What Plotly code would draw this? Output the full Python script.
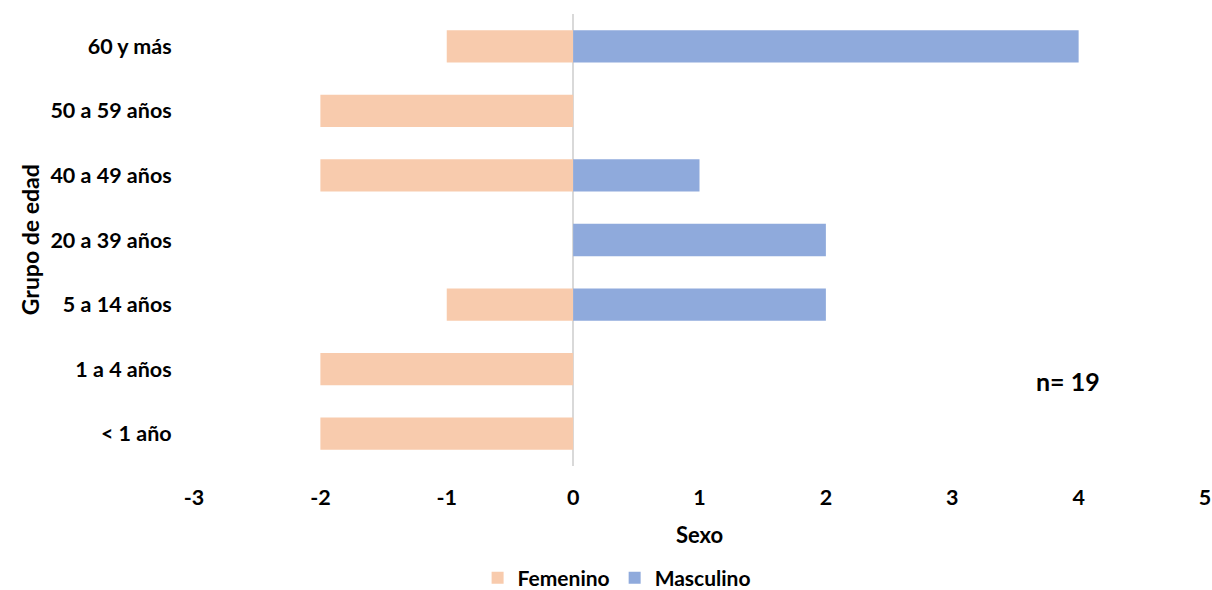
import plotly.graph_objects as go

grupos = ["< 1 año", "1 a 4 años", "5 a 14 años", "20 a 39 años",
          "40 a 49 años", "50 a 59 años", "60 y más"]
femenino = [-2, -2, -1, 0, -2, -2, -1]
masculino = [0, 0, 2, 2, 1, 0, 4]
x_ticks = [-3, -2, -1, 0, 1, 2, 3, 4, 5]
x_tick_labels = ["-3", "-2", "-1", "0", "1", "2", "3", "4", "5"]

FONT = "Lato"
BOLD = dict(family=FONT, size=21.5, color="#000000", weight="bold")

fig = go.Figure()
fig.add_trace(go.Bar(y=grupos, x=femenino, orientation="h", name="Femenino",
                     marker=dict(color="#F8CBAD", line=dict(width=0))))
fig.add_trace(go.Bar(y=grupos, x=masculino, orientation="h", name="Masculino",
                     marker=dict(color="#8FAADC", line=dict(width=0))))

fig.update_layout(
    width=1212, height=590,
    barmode="relative", bargap=0.5,
    plot_bgcolor="white", paper_bgcolor="white",
    margin=dict(l=194, r=7, t=14, b=124, autoexpand=False),
    font=dict(family=FONT, size=16, color="#000000"),
    xaxis=dict(range=[-3, 5], tickvals=x_ticks, ticktext=x_tick_labels,
               showgrid=False, zeroline=True, automargin=False,
               zerolinecolor="#D9D9D9", zerolinewidth=2, showline=False,
               tickfont=BOLD,
               ticks="outside", ticklen=12, tickcolor="rgba(0,0,0,0)",
               title=dict(text="<b>Sexo</b>", standoff=18,
                          font=dict(family=FONT, size=22))),
    yaxis=dict(showgrid=False, showline=False, zeroline=False, automargin=False,
               tickfont=BOLD,
               ticks="outside", ticklen=17, tickcolor="rgba(0,0,0,0)"),
    legend=dict(orientation="h", x=0.418, xanchor="center", y=-0.248, yanchor="middle",
                font=dict(family=FONT, size=21, color="#000000", weight="bold"),
                itemsizing="constant", traceorder="normal"),
    annotations=[
        dict(text="<b>Grupo de edad</b>", xref="paper", yref="paper",
             x=-0.162, y=0.5, xanchor="center", yanchor="middle",
             textangle=-90, showarrow=False,
             font=dict(family=FONT, size=23)),
        dict(text="<b>n= 19</b>", xref="paper", yref="paper",
             x=(1068 - 194) / 1011, y=(466 - 381) / 452,
             xanchor="center", yanchor="middle", showarrow=False,
             font=dict(family=FONT, size=25)),
    ],
)

fig.write_html("out.html", config={"displayModeBar": False},
               post_script="document.body.style.margin='0';")
